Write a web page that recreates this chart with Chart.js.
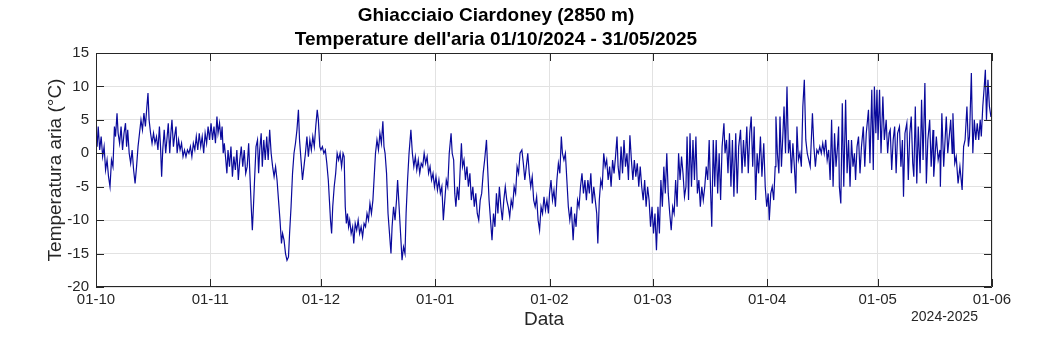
<!DOCTYPE html>
<html>
<head>
    <title>Ghiacciaio Ciardoney - Temperatura aria</title>
    <script src="https://cdn.jsdelivr.net/npm/chart.js"></script>
    <style>
        body { margin: 0; background: #ffffff; }
    </style>
</head>
<body>
    <canvas id="myChart" width="1045" height="351"></canvas>

    <script>
        // giorni dal 01/10/2024 e temperatura (°C)
        var ottobre = [[0,3.5],[0.3,1],[0.6,4],[1,0.5],[1.4,2.5],[1.8,-0.5],[2.2,1],[2.6,-2.5],[3,-1],[3.4,-3.5],[3.8,-5],[4.2,-1],[4.6,-2],[5,4],[5.3,2.5],[5.7,6],[6,3],[6.4,1.5],[6.8,4],[7.2,0.5],[7.6,3],[8,4.5],[8.3,1],[8.6,3.5],[9,0],[9.4,-1.5],[9.8,0.5],[10.2,-2.5],[10.6,-4.5],[11,-2],[11.4,1],[11.8,3],[12.2,5],[12.6,3.5],[13,6],[13.4,4],[13.8,7],[14.1,9],[14.4,5],[14.8,3],[15.2,1.5],[15.6,3],[16,1.5],[16.4,2.5],[16.8,0.5],[17.2,4],[17.5,1],[17.8,-3.5],[18.1,0.5],[18.5,3.5],[18.9,0],[19.3,2.5],[19.6,4.5],[20,0],[20.3,3],[20.6,5],[21,1],[21.3,2.5],[21.7,4],[22,0],[22.4,2],[22.8,0.5],[23.2,1.5],[23.6,-0.5],[24,0.5],[24.4,-0.5],[24.8,0.5],[25.2,0],[25.6,1],[26,-0.5],[26.4,1.5],[26.8,0.5],[27.2,2.5],[27.6,0.5],[28,3],[28.4,1],[28.8,2.5],[29.2,0],[29.6,3],[30,1.5],[30.4,4],[30.8,2]];
        var novembre = [[31.2,4.5],[31.6,2],[32,4],[32.4,1.5],[32.8,5.5],[33.1,3],[33.5,4.5],[33.9,2],[34.2,4],[34.5,0],[34.8,1.5],[35.2,-1],[35.5,-3],[35.8,0.5],[36.2,-2],[36.6,1],[37,-3.5],[37.4,-0.5],[37.8,-2.5],[38.2,0.5],[38.6,-4],[39,-1],[39.4,1],[39.8,-2],[40.2,0.5],[40.6,-3],[41,-2],[41.4,1.5],[41.8,-4],[42.1,-8],[42.4,-11.5],[42.7,-8],[43,-4],[43.4,1],[43.8,2],[44.1,-3],[44.4,0.5],[44.8,3],[45.1,-2],[45.5,2],[45.9,-1],[46.3,2.5],[46.7,-1],[47.1,3.5],[47.5,0],[47.9,-2],[48.3,-3.5],[48.7,-2],[49.1,-4],[49.5,-7],[49.9,-10],[50.3,-13.5],[50.6,-12],[51,-13],[51.4,-15],[51.8,-16],[52.2,-15.5],[52.5,-12],[52.9,-8],[53.3,-3],[53.7,0],[54.1,1.5],[54.5,3.5],[54.9,6.5],[55.2,2],[55.6,-1],[56,-4],[56.4,-2],[56.8,0],[57.2,2.5],[57.6,-0.5],[58,2],[58.4,0.5],[58.8,2.5],[59.2,1],[59.6,4],[60,6.5],[60.3,5],[60.7,1],[61,0.5]];
        var dicembre = [[61.4,1],[61.8,0],[62.2,0.5],[62.6,-1.5],[63,-4],[63.3,-7],[63.6,-10],[63.9,-12],[64.2,-8],[64.6,-5],[65,-3],[65.4,0],[65.8,-1],[66.2,0],[66.6,-2],[67,0],[67.3,-0.5],[67.6,-8],[67.9,-10.5],[68.2,-9],[68.5,-11],[68.8,-10],[69.2,-12],[69.6,-11],[69.9,-13.5],[70.3,-10.5],[70.7,-11.5],[71.1,-10],[71.5,-12],[71.9,-11],[72.3,-12.5],[72.7,-10.5],[73.1,-11],[73.5,-9],[73.9,-10],[74.3,-7.5],[74.7,-9],[75.1,-7],[75.5,-3],[75.8,0],[76.2,2],[76.6,0.5],[77,3],[77.4,1.5],[77.8,4.8],[78.1,1],[78.4,0],[78.8,-3],[79.2,-9],[79.6,-12],[80,-15],[80.3,-11],[80.7,-8],[81.1,-10],[81.5,-7],[81.8,-4],[82.2,-8],[82.6,-12],[83,-16],[83.4,-14],[83.8,-15],[84.1,-9],[84.5,-4],[84.9,0],[85.4,3.5],[85.8,0],[86.2,-2],[86.6,-0.5],[87,-2.5],[87.4,-1],[87.8,-3],[88.2,-1.5],[88.6,-2],[89,0],[89.4,-1.5],[89.8,-0.5],[90.2,-3],[90.6,-2],[91,-4],[91.4,-3],[91.8,-5]];
        var gennaio = [[92.2,-3.5],[92.6,-5.5],[93,-4],[93.4,-6],[93.8,-5],[94.2,-10],[94.6,-7],[95,-4],[95.4,-5],[95.8,0],[96.3,3],[96.6,0],[97,-1],[97.3,-6],[97.6,-8],[98,-5],[98.4,-7],[98.8,-2],[99.1,1.5],[99.4,-2],[99.8,-1],[100.2,-4],[100.6,-2],[101,-5],[101.4,-3],[101.8,-7],[102.2,-5],[102.6,-8],[103,-6],[103.4,-9],[103.8,-10],[104.2,-7],[104.6,-6],[105,-3],[105.4,-1],[105.9,2],[106.2,-2],[106.6,-7],[107,-10],[107.4,-13],[107.8,-9],[108.2,-11],[108.6,-6],[109,-9],[109.4,-5],[109.8,-8],[110.2,-10],[110.6,-7],[111,-5],[111.4,-7],[111.8,-8],[112.2,-9.5],[112.6,-7],[113,-8],[113.4,-5],[113.8,-6],[114.2,-2],[114.6,-3],[115,0],[115.5,0.5],[115.9,-1.5],[116.3,-4],[116.7,-2],[117.1,0],[117.5,-3],[117.9,-5],[118.3,-3.5],[118.7,-7],[119.1,-8],[119.5,-6.5],[119.9,-10],[120.3,-11.5],[120.7,-8],[121.1,-9],[121.5,-6.5],[121.9,-8.5],[122.3,-7],[122.7,-9],[123,-6]];
        var febbraio = [[123.4,-4],[123.8,-7],[124.2,-5.5],[124.6,-8],[125,-4],[125.4,-1.5],[125.8,-3],[126.2,2.5],[126.5,0],[126.9,-1],[127.3,0],[127.7,-4],[128.1,-8],[128.5,-10],[128.9,-8],[129.4,-13],[129.8,-9],[130.2,-11],[130.6,-7],[131,-8],[131.4,-5],[131.8,-3],[132.2,-6],[132.6,-4],[133,-7],[133.4,-4],[133.8,-6],[134.2,-3],[134.6,-7.5],[135,-5],[135.4,-7],[135.8,-9],[136.1,-13.5],[136.5,-7],[136.9,-4],[137.3,-5],[137.7,0],[138.1,-2],[138.5,-1],[138.9,-4],[139.3,-2],[139.7,-5],[140.1,-1],[140.5,-3],[140.9,-0.5],[141.3,2.5],[141.6,-2],[142,-4],[142.4,1],[142.8,-3],[143.2,2],[143.6,-2],[144,0],[144.4,-4],[144.8,2.7],[145.2,-1],[145.6,-4],[146,-1],[146.4,-3.5],[146.8,-1.5],[147.2,-5],[147.6,-2],[148,-5],[148.4,-7],[148.8,-4],[149.2,-8],[149.6,-5],[150,-7],[150.4,-11],[150.8,-8]];
        var marzo = [[151.2,-12],[151.6,-9],[152,-14.5],[152.4,-8],[152.8,-12],[153.2,-4],[153.6,-8],[154,-2],[154.4,-6],[154.8,0],[155.2,-6],[155.6,-9],[156,-11.5],[156.4,-8],[156.8,-9],[157.2,-4],[157.6,-8],[158,0],[158.4,-4],[158.8,-0.5],[159.2,-3],[159.6,-6.5],[160,-5],[160.3,2.5],[160.7,-7],[161.1,3],[161.5,-5],[161.9,2],[162.3,-4],[162.7,2.5],[163.1,-6],[163.5,-4],[163.9,-8],[164.3,-5],[164.7,-7],[165.1,-5],[165.5,-2],[165.9,-4],[166.3,2],[166.7,-6],[167,-11],[167.4,2],[167.8,-5],[168.2,2],[168.6,-6],[169,0],[169.4,-7],[169.8,1],[170.3,4.5],[170.6,0],[171,2],[171.4,-3],[171.8,3],[172.2,-5],[172.6,2],[173,-6.5],[173.5,3],[173.9,-6],[174.3,1],[174.8,3.5],[175.2,-3],[175.6,2],[176,-2],[176.5,4],[176.9,-3],[177.3,3],[177.7,5.5],[178.1,-2],[178.5,4],[178.9,-7],[179.3,0],[179.7,-3],[180.2,2.5],[180.6,-3.5],[181.1,1.5],[181.5,-5],[181.9,-8]];
        var aprile = [[182.3,-6],[182.6,-10],[183,-6],[183.4,-5],[183.8,-7],[184.2,-2],[184.4,5.5],[184.8,0],[185.2,-3],[185.5,5.5],[185.9,-2],[186.3,3],[186.6,7],[187,0],[187.4,10],[187.8,0],[188.2,2],[188.6,-3],[189,1.5],[189.4,-2],[189.8,-6],[190.1,4],[190.5,-1],[190.9,0],[191.3,-2],[191.7,7],[192.1,11],[192.5,2],[192.9,0],[193.3,-1],[193.7,-2],[194.3,6],[194.7,1],[195.1,-2],[195.5,0.5],[195.9,0],[196.3,1],[196.7,0],[197.1,1.5],[197.5,0],[197.9,2],[198.3,-1],[198.7,0.5],[199.1,-4],[199.5,5],[199.9,-5],[200.3,3],[200.7,-2],[201.1,1],[201.4,4],[201.6,-5],[202,-7.5],[202.4,7.5],[202.8,-5],[203.3,8],[203.7,-3],[204.1,2],[204.5,-5],[204.9,2],[205.3,-2],[205.7,0],[206,-4],[206.4,1],[206.8,2.5],[207.2,-3],[207.6,1],[208.1,4],[208.5,-2],[208.9,3],[209.5,6.5],[209.9,-1.5],[210.4,9.5],[210.8,-2.5],[211.1,10],[211.5,3],[211.8,9.5]];
        var maggio = [[212.1,2],[212.5,9.5],[212.9,0],[213.4,8.5],[213.8,2],[214.3,5],[214.7,0],[215.1,3],[215.4,3.5],[215.8,-2.5],[216.2,2],[216.6,4],[217,-3],[217.4,3],[217.9,4],[218.3,-2],[218.7,2],[219,-6.5],[219.4,3],[219.9,4.5],[220.3,-4],[220.7,3],[221.1,5.5],[221.5,-1.5],[221.8,-3.5],[222.2,7],[222.6,-4.5],[223,4],[223.5,-3],[223.9,8],[224.3,-1],[224.8,10.5],[225.2,-4.5],[225.6,2],[226.1,5],[226.5,-2],[227,3.5],[227.2,-3.5],[227.9,2.5],[228.4,-1],[228.9,0.5],[229,-5],[229.4,6],[229.9,-2],[230.6,5.5],[231,0],[231.8,5],[232.2,0],[232.4,6],[232.9,-1.5],[233.3,-0.5],[233.8,-4.5],[234.3,-2],[234.9,-5.5],[235.3,1],[235.7,2],[236.2,7],[236.6,1],[236.9,2.5],[237.4,12],[237.8,0],[238.2,5],[238.6,2],[239,4.5],[239.4,2],[239.8,5],[240.1,2.5],[240.5,7],[240.9,10],[241.2,12.5],[241.5,5],[241.9,11],[242.3,7],[242.7,5.5],[243,5.5]];

        var tickDays = [0, 31, 61, 92, 123, 151, 182, 212, 243];
        var tickLabels = ['01-10', '01-11', '01-12', '01-01', '01-02', '01-03', '01-04', '01-05', '01-06'];
        var yTicks = [15, 10, 5, 0, -5, -10, -15, -20];

        var serie = [].concat(ottobre, novembre, dicembre, gennaio, febbraio, marzo, aprile, maggio)
            .map(function (p) { return {x: p[0], y: p[1]}; });

        // cornice chiusa e tacche interne stile MATLAB
        var boxPlugin = {
            id: 'boxPlugin',
            afterDraw: function (chart) {
                var ctx = chart.ctx, a = chart.chartArea;
                var xs = chart.scales.x, ys = chart.scales.y;
                var len = 8;
                ctx.save();
                ctx.strokeStyle = '#262626';
                ctx.lineWidth = 1;
                ctx.beginPath();
                ctx.rect(a.left + 0.5, a.top + 0.5, a.right - a.left - 1, a.bottom - a.top - 1);
                tickDays.forEach(function (d) {
                    var px = Math.round(xs.getPixelForValue(d)) + 0.5;
                    ctx.moveTo(px, a.bottom); ctx.lineTo(px, a.bottom - len);
                    ctx.moveTo(px, a.top); ctx.lineTo(px, a.top + len);
                });
                yTicks.forEach(function (v) {
                    var py = Math.round(ys.getPixelForValue(v)) + 0.5;
                    ctx.moveTo(a.left, py); ctx.lineTo(a.left + len, py);
                    ctx.moveTo(a.right, py); ctx.lineTo(a.right - len, py);
                });
                ctx.stroke();
                ctx.fillStyle = '#262626';
                ctx.font = '14px "Liberation Sans", Arial, sans-serif';
                ctx.textAlign = 'right';
                ctx.textBaseline = 'middle';
                ctx.fillText('2024-2025', a.right - 14, 317);
                ctx.restore();
            }
        };

        var ctx = document.getElementById('myChart').getContext('2d');
        var myChart = new Chart(ctx, {
            type: 'line',
            data: {
                datasets: [{
                    label: 'Temperatura aria',
                    data: serie,
                    borderColor: '#0a0a9c',
                    borderWidth: 1.2,
                    pointRadius: 0,
                    tension: 0,
                    fill: false
                }]
            },
            options: {
                responsive: false,
                animation: false,
                layout: { padding: { top: 0, right: 53, bottom: 0, left: 0 } },
                plugins: {
                    legend: { display: false },
                    tooltip: { enabled: false },
                    title: {
                        display: true,
                        text: ['Ghiacciaio Ciardoney (2850 m)', "Temperature dell'aria 01/10/2024 - 31/05/2025"],
                        color: '#000000',
                        font: { family: '"Liberation Sans", Arial, sans-serif', size: 19, weight: 'bold', lineHeight: 1.25 },
                        padding: { top: 4, bottom: 1.5 }
                    }
                },
                scales: {
                    x: {
                        type: 'linear',
                        min: 0,
                        max: 243,
                        afterBuildTicks: function (scale) {
                            scale.ticks = tickDays.map(function (d) { return {value: d}; });
                        },
                        afterFit: function (scale) { scale.height = 64; },
                        ticks: {
                            autoSkip: false,
                            maxRotation: 0,
                            padding: 4,
                            color: '#262626',
                            font: { family: '"Liberation Sans", Arial, sans-serif', size: 15 },
                            callback: function (v) { return tickLabels[tickDays.indexOf(v)]; }
                        },
                        grid: { color: '#e2e2e2', drawTicks: false },
                        border: { display: false },
                        title: {
                            display: true,
                            text: 'Data',
                            color: '#262626',
                            font: { family: '"Liberation Sans", Arial, sans-serif', size: 19, lineHeight: 1.2 },
                            padding: { top: 0, bottom: 20 }
                        }
                    },
                    y: {
                        min: -20,
                        max: 15,
                        afterBuildTicks: function (scale) {
                            scale.ticks = yTicks.map(function (v) { return {value: v}; });
                        },
                        afterFit: function (scale) { scale.width = 96; },
                        ticks: {
                            padding: 7,
                            color: '#262626',
                            font: { family: '"Liberation Sans", Arial, sans-serif', size: 15 }
                        },
                        grid: { color: '#e2e2e2', drawTicks: false },
                        border: { display: false },
                        title: {
                            display: true,
                            text: 'Temperatura aria (°C)',
                            color: '#262626',
                            font: { family: '"Liberation Sans", Arial, sans-serif', size: 19, lineHeight: 1.2 },
                            padding: { top: 44, bottom: 0 }
                        }
                    }
                }
            },
            plugins: [boxPlugin]
        });
    </script>
</body>
</html>
